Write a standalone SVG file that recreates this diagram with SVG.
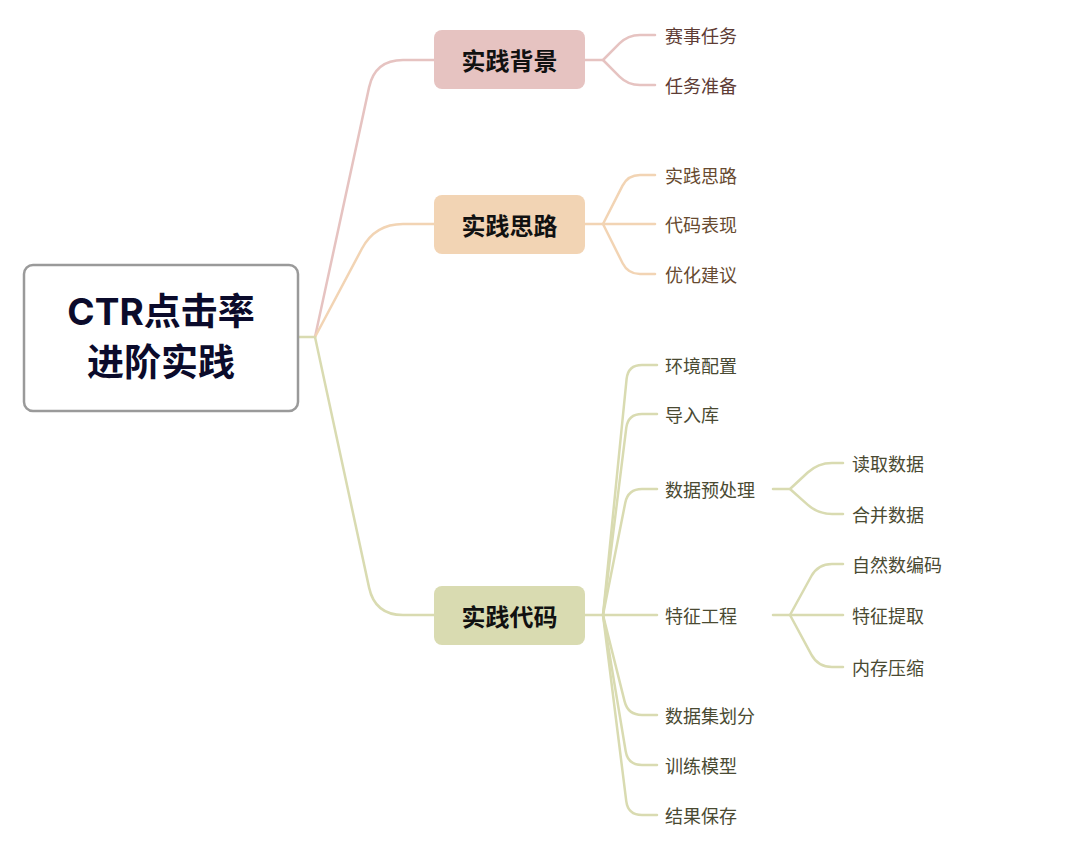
<svg xmlns="http://www.w3.org/2000/svg" width="1080" height="861" viewBox="0 0 1080 861">
<style>
.c{fill:none;stroke-width:2.5;stroke-linecap:round;stroke-linejoin:round}
.p{stroke:#e6c3c1}.o{stroke:#f2d4b4}.g{stroke:#d9dbb1}
.root{font-family:Inter,"Noto Sans CJK SC",sans-serif;font-weight:bold;font-size:37px;fill:#0b0b2b;text-anchor:middle}
.main{font-family:"Noto Sans CJK SC",sans-serif;font-weight:bold;font-size:24px;fill:#111;text-anchor:middle;dominant-baseline:central}
.t{font-family:"Noto Sans CJK SC",sans-serif;font-size:18px;dominant-baseline:central}
.tp{fill:#5e3c35}.to{fill:#674a30}.tg{fill:#4a4a32}
</style>
<rect width="1080" height="861" fill="#fff"/>
<g id="connectors">
<path class="c g" d="M298,337 L315,337"/>
<path class="c p" d="M315,337 L369.07,87.37 Q375,60 403,60 L434,60"/>
<path class="c o" d="M315,337 L361.87,248.74 Q375,224 403,224 L434,224"/>
<path class="c g" d="M315,337 L369.09,587.63 Q375,615 403,615 L434,615"/>
<path class="c p" d="M585,60 L603,60 L619.51,43.49 Q628,35 640,35 L655,35"/>
<path class="c p" d="M603,60 L619.51,76.51 Q628,85 640,85 L655,85"/>
<path class="c o" d="M585,224 L655,224"/>
<path class="c o" d="M603,224 L622.55,185.69 Q628,175 640,175 L655,175"/>
<path class="c o" d="M603,224 L622.63,263.27 Q628,274 640,274 L655,274"/>
<path class="c g" d="M585,615 L657,615"/>
<path class="c g" d="M603,615 L626.61,378.93 Q628,365 642,365 L657,365"/>
<path class="c g" d="M603,615 L626.27,427.89 Q628,414 642,414 L657,414"/>
<path class="c g" d="M603,615 L625.28,502.73 Q628,489 642,489 L657,489"/>
<path class="c g" d="M603,615 L624.60,701.42 Q628,715 642,715 L657,715"/>
<path class="c g" d="M603,615 L625.70,751.19 Q628,765 642,765 L657,765"/>
<path class="c g" d="M603,615 L626.26,801.11 Q628,815 642,815 L657,815"/>
<path class="c g" d="M773,489 L790,489 L807.74,472.53 Q818,463 832,463 L843,463"/>
<path class="c g" d="M790,489 L807.56,504.68 Q818,514 832,514 L843,514"/>
<path class="c g" d="M773,615 L843,615"/>
<path class="c g" d="M790,615 L811.26,576.27 Q818,564 832,564 L843,564"/>
<path class="c g" d="M790,615 L811.36,654.67 Q818,667 832,667 L843,667"/>
</g>
<g id="root">
<rect x="24" y="265" width="274" height="146" rx="9" fill="#fff" stroke="#9a9a9a" stroke-width="2.5"/>
<text class="root" x="161" y="325">CTR点击率</text>
<text class="root" x="161" y="376">进阶实践</text>
</g>
<g id="n-bg"><rect x="434" y="30" width="151" height="59" rx="8" fill="#e6c3c1"/><text class="main" x="509.5" y="59.5">实践背景</text></g>
<g id="n-sl"><rect x="434" y="195" width="151" height="59" rx="8" fill="#f2d4b4"/><text class="main" x="509.5" y="224.5">实践思路</text></g>
<g id="n-dm"><rect x="434" y="586" width="151" height="59" rx="8" fill="#d9dbb1"/><text class="main" x="509.5" y="615.5">实践代码</text></g>
<g id="c1"><text class="t tp" x="665" y="35">赛事任务</text></g>
<g id="c2"><text class="t tp" x="665" y="85">任务准备</text></g>
<g id="c3"><text class="t to" x="665" y="175">实践思路</text></g>
<g id="c4"><text class="t to" x="665" y="224">代码表现</text></g>
<g id="c5"><text class="t to" x="665" y="274">优化建议</text></g>
<g id="c6"><text class="t tg" x="665" y="365">环境配置</text></g>
<g id="c7"><text class="t tg" x="665" y="414">导入库</text></g>
<g id="c8"><text class="t tg" x="665" y="489">数据预处理</text></g>
<g id="c9"><text class="t tg" x="665" y="615">特征工程</text></g>
<g id="c10"><text class="t tg" x="665" y="715">数据集划分</text></g>
<g id="c11"><text class="t tg" x="665" y="765">训练模型</text></g>
<g id="c12"><text class="t tg" x="665" y="815">结果保存</text></g>
<g id="d1"><text class="t tg" x="852" y="463">读取数据</text></g>
<g id="d2"><text class="t tg" x="852" y="514">合并数据</text></g>
<g id="d3"><text class="t tg" x="852" y="564">自然数编码</text></g>
<g id="d4"><text class="t tg" x="852" y="615">特征提取</text></g>
<g id="d5"><text class="t tg" x="852" y="667">内存压缩</text></g>
</svg>
